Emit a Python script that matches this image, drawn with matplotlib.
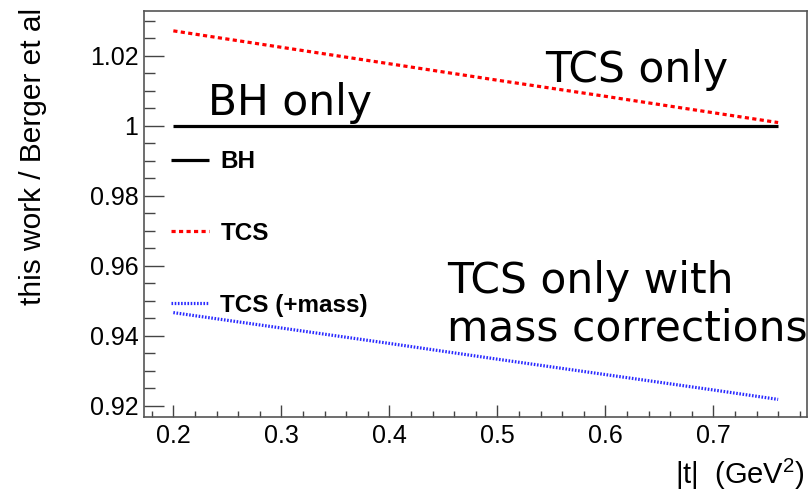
import numpy as np
import matplotlib.pyplot as plt
from matplotlib.ticker import MultipleLocator

plt.rcParams['font.family'] = ['Liberation Sans', 'DejaVu Sans']
plt.rcParams['mathtext.fontset'] = 'custom'
plt.rcParams['mathtext.rm'] = 'Liberation Sans'

# |t| grid and ratios (this work / Berger et al)
t_vals = [0.20, 0.30, 0.40, 0.50, 0.60, 0.70, 0.76]
bh_ratio = [1.0, 1.0, 1.0, 1.0, 1.0, 1.0, 1.0]
tcs_ratio = [1.0271, 1.0224, 1.0177, 1.0130, 1.0084, 1.0037, 1.0009]
tcs_mass_ratio = [0.9466, 0.9422, 0.9378, 0.9333, 0.9289, 0.9245, 0.9218]

series_labels = ['BH', 'TCS', 'TCS (+mass)']

fig = plt.figure(figsize=(8.11, 4.91), dpi=100)
ax = fig.add_axes([0.1776, 0.1501, 0.8175, 0.8275])

ax.plot(t_vals, bh_ratio, color='black', lw=2.3, solid_capstyle='butt', label=series_labels[0])
ax.plot(t_vals, tcs_ratio, color='#ff0000', lw=2.3, dashes=(1.3, 1.05), label=series_labels[1])
ax.plot(t_vals, tcs_mass_ratio, color='#2a2aff', lw=2.3, dashes=(0.5, 0.5), label=series_labels[2])

ax.set_xlim(0.17287, 0.78676)
ax.set_ylim(0.91669, 1.03277)

ax.xaxis.set_major_locator(MultipleLocator(0.1))
ax.xaxis.set_minor_locator(MultipleLocator(0.02))
ax.yaxis.set_major_locator(MultipleLocator(0.02))
ax.yaxis.set_minor_locator(MultipleLocator(0.005))
ax.set_yticks([0.92, 0.94, 0.96, 0.98, 1.0, 1.02])
ax.set_yticklabels(['0.92', '0.94', '0.96', '0.98', '1', '1.02'])
ax.set_xticks([0.2, 0.3, 0.4, 0.5, 0.6, 0.7])
ax.set_xticklabels(['0.2', '0.3', '0.4', '0.5', '0.6', '0.7'])

ax.tick_params(which='both', direction='in', top=False, right=False,
               color='#444444', width=1.0, labelsize=18, labelcolor='black')
ax.tick_params(axis='y', which='major', length=14.4, pad=4)
ax.tick_params(axis='y', which='minor', length=7.9)
ax.tick_params(axis='x', which='major', length=8.6, pad=5)
ax.tick_params(axis='x', which='minor', length=4.3)
for sp in ax.spines.values():
    sp.set_color('#555555')
    sp.set_linewidth(1.2)

ax.set_ylabel('this work / Berger et al', fontsize=21.5)
ax.yaxis.set_label_coords(-0.168, 1.007)
ax.yaxis.label.set_ha('right')
ax.yaxis.label.set_va('center')

ax.set_xlabel(r'|t|  (GeV$^{\mathrm{2}}$)', fontsize=21)
ax.xaxis.set_label_coords(0.997, -0.163)
ax.xaxis.label.set_ha('right')
ax.xaxis.label.set_va('baseline')

leg = ax.legend(loc='upper left', bbox_to_anchor=(0.04, 0.657), frameon=False,
                prop={'weight': 'bold', 'size': 17.5}, handlelength=1.6,
                handletextpad=0.45, labelspacing=2.0, borderpad=0, borderaxespad=0)

big = dict(family='DejaVu Sans', fontsize=30.5, va='baseline', ha='left')
ax.text(0.2323, 1.00306, 'BH only', **big)
ax.text(0.5442, 1.01249, 'TCS only', **big)
ax.text(0.4534, 0.9522, 'TCS only with', **big)
ax.text(0.4534, 0.93877, 'mass corrections', **big)

fig.savefig('out.png', dpi=100)
